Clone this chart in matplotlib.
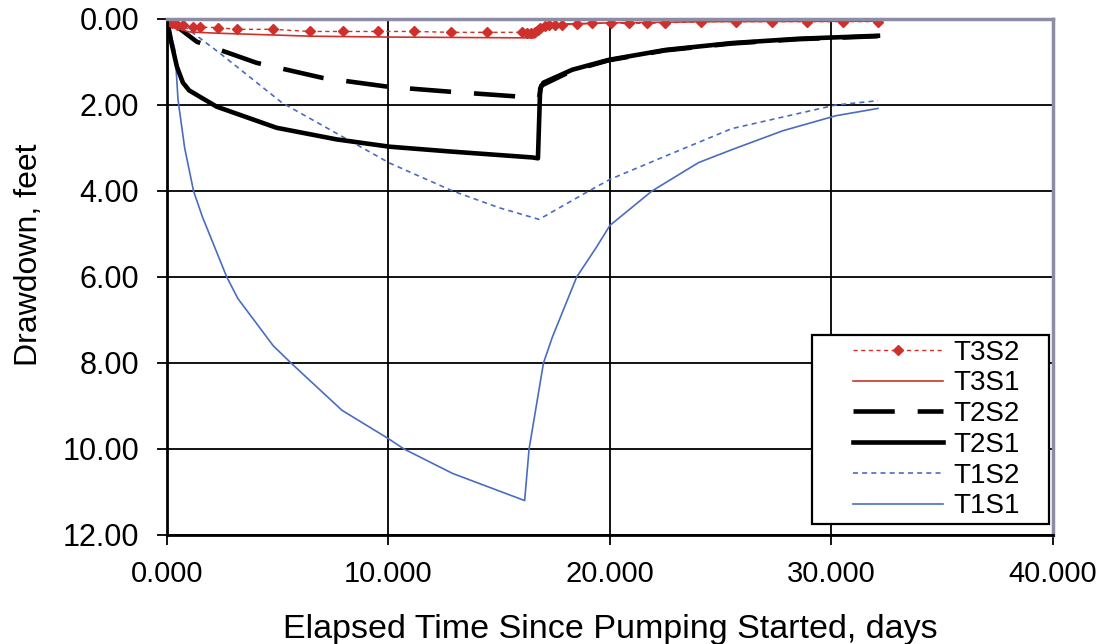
import matplotlib.pyplot as plt
from matplotlib.legend_handler import HandlerLine2D

plt.rcParams['font.family'] = ['Liberation Sans', 'DejaVu Sans']

# T1S1 - blue solid
t1s1_t = [0, 0.36, 0.5, 0.8, 1.2, 1.6, 2.7, 3.2, 4.8, 5.6, 7.9, 10.0, 10.7, 12.9,
          16.15, 16.35, 17.0, 17.4, 18.5, 19.4, 20.0, 21.9, 24.0, 25.5, 27.8, 30.2, 32.1]
t1s1_v = [0, 0.72, 1.88, 3.0, 4.0, 4.6, 6.0, 6.5, 7.6, 8.0, 9.1, 9.76, 10.0, 10.57,
          11.2, 10.0, 8.0, 7.4, 6.0, 5.3, 4.8, 4.0, 3.34, 3.04, 2.6, 2.25, 2.08]

# T1S2 - blue dotted
t1s2_t = [0, 0.7, 2.4, 5.2, 10.05, 12.9, 15.0, 16.8, 19.05, 20.0, 22.5, 25.5, 30.2, 32.1]
t1s2_v = [0, 0.14, 0.8, 1.95, 3.35, 4.0, 4.39, 4.66, 4.0, 3.73, 3.19, 2.55, 2.0, 1.9]

# T2S1 - black solid
t2s1_t = [0, 0.2, 0.45, 0.72, 1.0, 1.49, 2.25, 4.95, 7.66, 10.05, 12.75, 16.5, 16.75,
          16.85, 17.0, 18.3, 19.95, 22.5, 25.5, 28.5, 32.1]
t2s1_v = [0, 0.55, 1.11, 1.48, 1.66, 1.81, 2.04, 2.53, 2.8, 2.97, 3.08, 3.22, 3.24,
          1.62, 1.48, 1.18, 0.95, 0.72, 0.56, 0.46, 0.39]

# T2S2 - black dashed
t2s2_t = [0, 1.35, 4.05, 7.03, 10.05, 12.75, 16.04, 16.8, 16.9, 18.3, 19.95, 22.5, 25.5, 28.5, 32.1]
t2s2_v = [0, 0.53, 1.02, 1.37, 1.58, 1.69, 1.81, 1.83, 1.55, 1.2, 0.96, 0.73, 0.57, 0.47, 0.4]

# T3S1 - red solid
t3s1_t = [0, 0.3, 1.0, 2.25, 6.5, 10.0, 16.6, 16.8, 17.0, 17.6, 20.0, 25.0, 32.1]
t3s1_v = [0, 0.2, 0.3, 0.33, 0.4, 0.42, 0.44, 0.3, 0.16, 0.12, 0.09, 0.06, 0.05]

# T3S2 - red dotted with markers
t3s2_t = [0, 0.1, 0.25, 0.45, 0.72, 1.17, 1.49, 2.3, 3.15, 4.77, 6.44, 7.93, 9.55,
          11.17, 12.84, 14.46, 16.04, 16.25, 16.45, 16.6, 16.75, 16.85, 17.05, 17.25,
          17.5, 17.84, 18.51, 19.19, 20.05, 20.86, 21.67, 22.48, 24.1, 25.68, 27.3,
          28.92, 30.54, 32.12]
t3s2_v = [0, 0.05, 0.1, 0.13, 0.14, 0.19, 0.19, 0.2, 0.24, 0.24, 0.29, 0.29, 0.29,
          0.29, 0.31, 0.31, 0.31, 0.33, 0.33, 0.31, 0.25, 0.2, 0.17, 0.15,
          0.14, 0.13, 0.12, 0.1, 0.1, 0.1, 0.1, 0.09, 0.06, 0.06, 0.06,
          0.06, 0.06, 0.06]

x_ticks = [0, 10, 20, 30, 40]
y_ticks = [0, 2, 4, 6, 8, 10, 12]

red = '#d0302c'
blue = '#4a6cc0'

fig = plt.figure(figsize=(11.13, 6.44), dpi=100)
ax = fig.add_axes([0.15, 0.1693, 0.796, 0.8012])

l_t1s1, = ax.plot(t1s1_t, t1s1_v, color=blue, lw=1.2, label='T1S1')
l_t1s2, = ax.plot(t1s2_t, t1s2_v, color=blue, lw=1.2, dashes=(3, 2.5), label='T1S2')
l_t2s1, = ax.plot(t2s1_t, t2s1_v, color='black', lw=3.3, label='T2S1')
l_t2s2, = ax.plot(t2s2_t, t2s2_v, color='black', lw=3.3, dashes=(9, 5), label='T2S2')
l_t3s1, = ax.plot(t3s1_t, t3s1_v, color=red, lw=1.2, label='T3S1')
l_t3s2, = ax.plot(t3s2_t, t3s2_v, color=red, lw=1.0, dashes=(3, 2.5), marker='D',
                  ms=5.5, mfc=red, mec=red, label='T3S2')

ax.set_xlim(0, 40)
ax.set_ylim(12, 0)
ax.set_xticks(x_ticks)
ax.set_yticks(y_ticks)
ax.set_xticklabels([f'{v:.3f}' for v in x_ticks])
ax.set_yticklabels([f'{v:.2f}' for v in y_ticks])
ax.grid(True, color='black', lw=1.3)
ax.set_axisbelow(True)

ax.tick_params(axis='both', labelsize=21, direction='out', length=7, width=1.3, color='black')
ax.tick_params(axis='y', pad=13, labelsize=22)
ax.tick_params(axis='x', pad=11)

for side in ['left', 'bottom']:
    ax.spines[side].set_color('black')
    ax.spines[side].set_linewidth(2)
for side in ['top', 'right']:
    ax.spines[side].set_color('#8c8ca4')
    ax.spines[side].set_linewidth(2.5)

ax.set_xlabel('Elapsed Time Since Pumping Started, days', fontsize=24.5, labelpad=19)
ax.set_ylabel('Drawdown, feet', fontsize=23)
ax.yaxis.set_label_coords(-0.139, 0.543)

# legend: line drawn in right part of a long handle box, frame stretched to bbox width
pad_handler = HandlerLine2D(xpad=1.31, numpoints=1)
leg = ax.legend(handles=[l_t3s2, l_t3s1, l_t2s2, l_t2s1, l_t1s2, l_t1s1],
                loc='lower left', bbox_to_anchor=(0.728, 0.0213, 0.2675, 0.3),
                mode='expand', fontsize=20, handlelength=4.55, handletextpad=0.36,
                labelspacing=0.17, borderpad=0.17, borderaxespad=0,
                fancybox=False, framealpha=1, edgecolor='black',
                handler_map={l: pad_handler for l in [l_t3s2, l_t3s1, l_t2s2,
                                                      l_t2s1, l_t1s2, l_t1s1]})
leg.get_frame().set_linewidth(1.6)

fig.savefig('out.png', dpi=100)
